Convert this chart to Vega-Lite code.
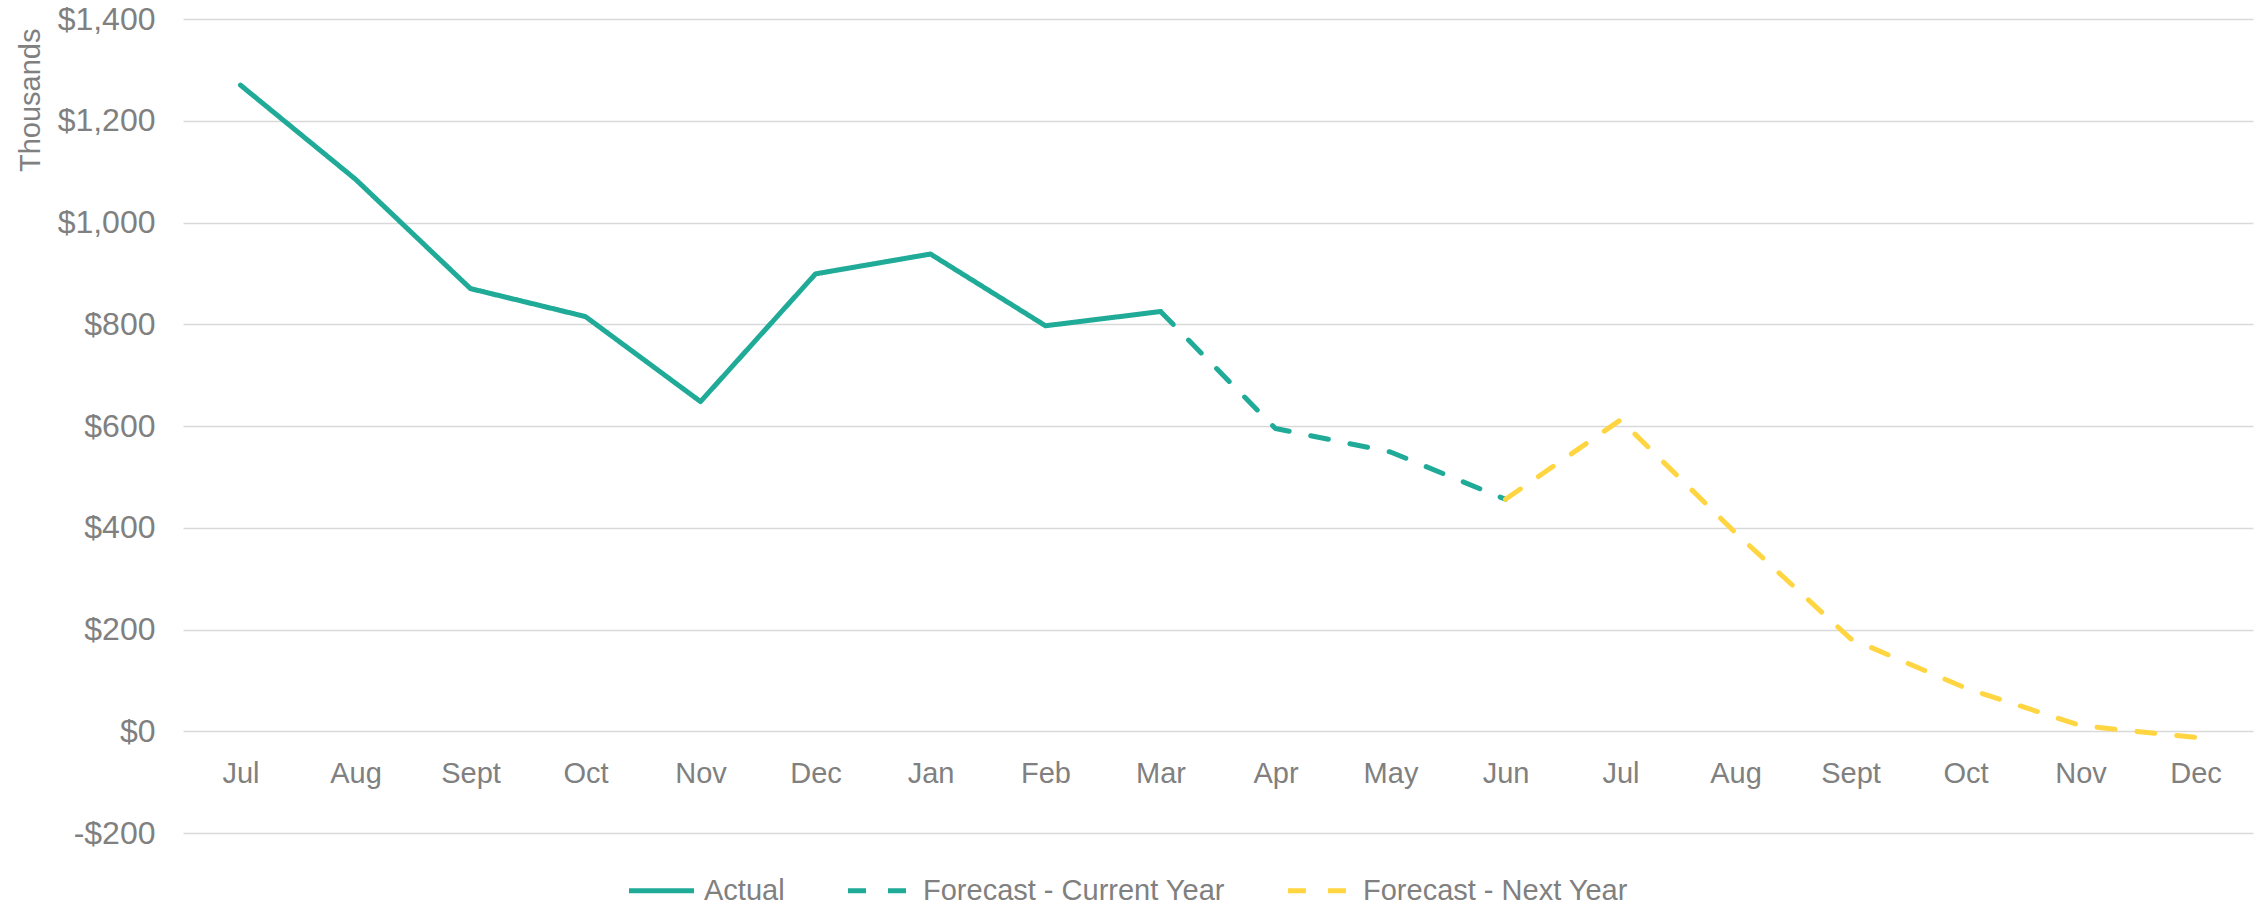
{
  "$schema": "https://vega.github.io/schema/vega-lite/v6.json",
  "width": 2070,
  "height": 814,
  "autosize": {"type": "none"},
  "padding": {"left": 183, "top": 19, "right": 9, "bottom": 73},
  "background": "white",
  "config": {"view": {"stroke": null}, "font": "Liberation Sans"},
  "data": {
    "values": [
      {"period": "Jul-1", "series": "Actual", "value": 1270},
      {"period": "Aug-1", "series": "Actual", "value": 1085},
      {"period": "Sept-1", "series": "Actual", "value": 870},
      {"period": "Oct-1", "series": "Actual", "value": 815},
      {"period": "Nov-1", "series": "Actual", "value": 648},
      {"period": "Dec-1", "series": "Actual", "value": 899},
      {"period": "Jan-2", "series": "Actual", "value": 938},
      {"period": "Feb-2", "series": "Actual", "value": 797},
      {"period": "Mar-2", "series": "Actual", "value": 825},
      {"period": "Mar-2", "series": "Forecast - Current Year", "value": 825},
      {"period": "Apr-2", "series": "Forecast - Current Year", "value": 595},
      {"period": "May-2", "series": "Forecast - Current Year", "value": 549},
      {"period": "Jun-2", "series": "Forecast - Current Year", "value": 456},
      {"period": "Jun-2", "series": "Forecast - Next Year", "value": 456},
      {"period": "Jul-2", "series": "Forecast - Next Year", "value": 612},
      {"period": "Aug-2", "series": "Forecast - Next Year", "value": 390},
      {"period": "Sept-2", "series": "Forecast - Next Year", "value": 182},
      {"period": "Oct-2", "series": "Forecast - Next Year", "value": 85},
      {"period": "Nov-2", "series": "Forecast - Next Year", "value": 11},
      {"period": "Dec-2", "series": "Forecast - Next Year", "value": -12}
    ]
  },
  "mark": {"type": "line", "strokeWidth": 5, "strokeCap": "round", "strokeJoin": "round"},
  "encoding": {
    "x": {
      "field": "period",
      "type": "ordinal",
      "sort": ["Jul-1", "Aug-1", "Sept-1", "Oct-1", "Nov-1", "Dec-1", "Jan-2", "Feb-2", "Mar-2", "Apr-2", "May-2", "Jun-2", "Jul-2", "Aug-2", "Sept-2", "Oct-2", "Nov-2", "Dec-2"],
      "scale": {"type": "point", "padding": 0.5},
      "axis": {
        "title": null,
        "offset": -102,
        "domain": false,
        "ticks": false,
        "tickSize": 0,
        "grid": false,
        "labelAngle": 0,
        "labelBaseline": "top",
        "labelPadding": 28,
        "labelFontSize": 29,
        "labelColor": "#808080",
        "labelExpr": "split(datum.label, '-')[0]"
      }
    },
    "y": {
      "field": "value",
      "type": "quantitative",
      "scale": {"domain": [-200, 1400], "nice": false, "zero": false},
      "axis": {
        "title": "Thousands",
        "values": [-200, 0, 200, 400, 600, 800, 1000, 1200, 1400],
        "domain": false,
        "ticks": false,
        "tickSize": 0,
        "labelPadding": 28,
        "labelFontSize": 32,
        "labelColor": "#808080",
        "labelExpr": "datum.value < 0 ? '-$' + format(-datum.value, ',') : '$' + format(datum.value, ',')",
        "gridColor": "#D9D9D9",
        "gridWidth": 1.5,
        "titleFontSize": 29,
        "titleFontWeight": "normal",
        "titleColor": "#808080",
        "titleAngle": 270,
        "titleAlign": "right",
        "titleBaseline": "alphabetic",
        "titleX": -144,
        "titleY": 9
      }
    },
    "color": {
      "field": "series",
      "type": "nominal",
      "scale": {
        "domain": ["Actual", "Forecast - Current Year", "Forecast - Next Year"],
        "range": ["#1FAB98", "#1FAB98", "#FFD641"]
      },
      "legend": {
        "orient": "none",
        "legendX": 464,
        "legendY": 857,
        "direction": "horizontal",
        "title": null,
        "symbolType": "M-3,0H3",
        "symbolSize": 470,
        "symbolStrokeWidth": 5,
        "labelFontSize": 29,
        "labelColor": "#808080",
        "labelLimit": 0,
        "labelOffset": 28,
        "columnPadding": 52
      }
    },
    "strokeDash": {
      "field": "series",
      "type": "nominal",
      "scale": {
        "domain": ["Actual", "Forecast - Current Year", "Forecast - Next Year"],
        "range": [[1, 0], [18, 22], [18, 22]]
      },
      "legend": {
        "orient": "none",
        "legendX": 464,
        "legendY": 857,
        "direction": "horizontal",
        "title": null,
        "symbolType": "M-3,0H3",
        "symbolSize": 470,
        "symbolStrokeWidth": 5,
        "labelFontSize": 29,
        "labelColor": "#808080",
        "labelLimit": 0,
        "labelOffset": 28,
        "columnPadding": 52
      }
    },
    "order": {"value": null}
  }
}
